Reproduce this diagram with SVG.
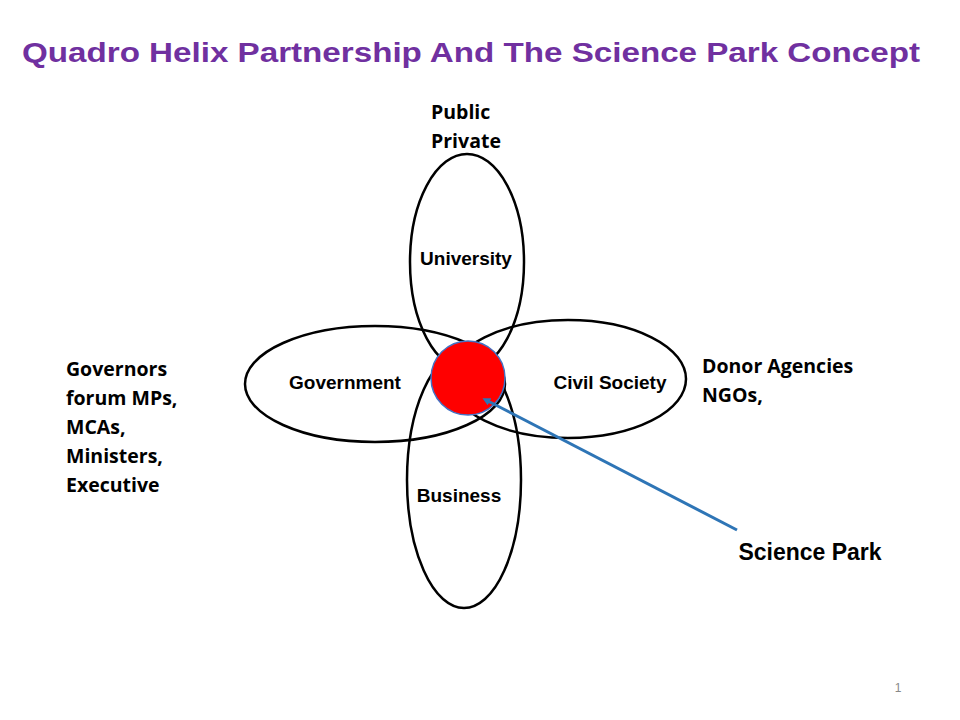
<svg xmlns="http://www.w3.org/2000/svg" width="960" height="720" viewBox="0 0 960 720">
<style>
.e{fill:none;stroke:#000;stroke-width:2.5}
.t{font-family:"Liberation Sans",Arial,sans-serif;font-weight:bold;fill:#000}
.s{font-family:"Open Sans","Liberation Sans",sans-serif;font-weight:bold;font-size:19.5px;fill:#000}
</style>
<defs><marker id="a" markerWidth="8" markerHeight="8" refX="4" refY="4" orient="auto" markerUnits="userSpaceOnUse"><path d="M8,0L0,4L8,8z" fill="#2E75B6" transform="rotate(180 4 4)"/></marker></defs>
<rect width="960" height="720" fill="#fff"/>
<text x="471" y="62" text-anchor="middle" class="t" font-size="27" textLength="898" lengthAdjust="spacingAndGlyphs" style="fill:#7030A0">Quadro Helix Partnership And The Science Park Concept</text>
<g id="university"><ellipse class="e" cx="467" cy="262" rx="57" ry="108"/><text class="t" font-size="19" x="466" y="265" text-anchor="middle">University</text></g>
<g id="business"><ellipse class="e" cx="464" cy="480" rx="57" ry="128"/><text class="t" font-size="19" x="459" y="502" text-anchor="middle">Business</text></g>
<g id="government"><ellipse class="e" cx="375" cy="384" rx="130" ry="58"/><text class="t" font-size="19" x="345" y="389" text-anchor="middle">Government</text></g>
<g id="civil"><ellipse class="e" cx="568" cy="379" rx="118" ry="59"/><text class="t" font-size="19" x="610" y="389" text-anchor="middle">Civil Society</text></g>
<g id="sciencepark"><circle cx="468" cy="378" r="37" fill="#FF0000" stroke="#4472C4" stroke-width="1.5"/><text class="t" font-size="23" x="810" y="560" text-anchor="middle">Science Park</text></g>
<g id="connectors"><line x1="737" y1="530" x2="486" y2="400" stroke="#2E75B6" stroke-width="3" marker-end="url(#a)"/></g>
<g id="labels">
<text class="s" x="431" y="119">Public</text><text class="s" x="431" y="148">Private</text>
<text class="s" x="66" y="376">Governors</text><text class="s" x="66" y="405">forum MPs,</text><text class="s" x="66" y="434">MCAs,</text><text class="s" x="66" y="463">Ministers,</text><text class="s" x="66" y="492">Executive</text>
<text class="s" x="702" y="373">Donor Agencies</text><text class="s" x="702" y="402">NGOs,</text>
<text x="898" y="692" font-family="Liberation Sans,sans-serif" font-size="12" fill="#888" text-anchor="middle">1</text>
</g>
</svg>
